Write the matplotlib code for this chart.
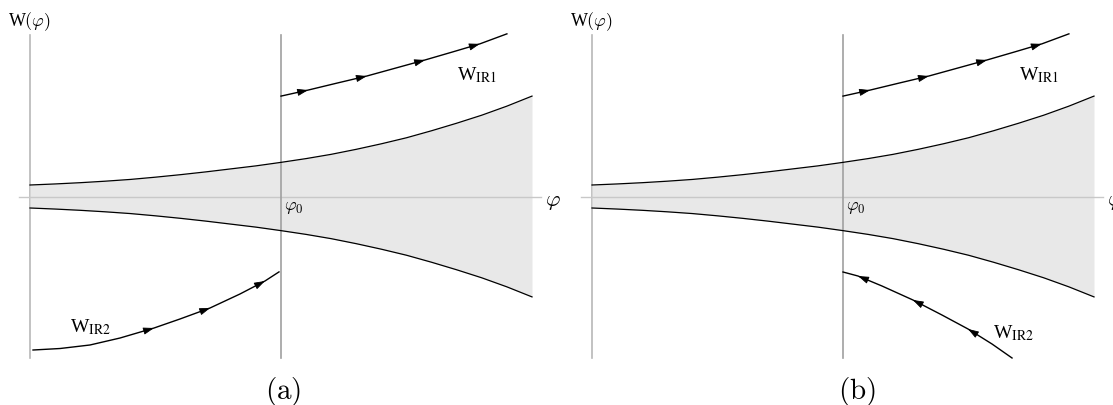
import numpy as np
import matplotlib
matplotlib.use("Agg")
import matplotlib.pyplot as plt

# shaded band around the phi axis (same in both panels)
band_phi = [0, 0.5, 1, 1.5, 2, 2.5, 3, 3.5, 4, 4.5, 5, 5.5, 6, 6.5, 7, 7.5, 8, 8.5, 9, 9.5, 10]
band_upper = [0.229, 0.25, 0.275, 0.305, 0.34, 0.385, 0.435, 0.49, 0.55, 0.61, 0.68,
              0.755, 0.84, 0.94, 1.05, 1.17, 1.31, 1.46, 1.62, 1.80, 2.0]
band_lower = [-0.229, -0.25, -0.275, -0.305, -0.34, -0.385, -0.435, -0.49, -0.55, -0.61, -0.68,
              -0.755, -0.84, -0.94, -1.05, -1.17, -1.31, -1.46, -1.62, -1.80, -2.0]

phi0 = 5.0

# W_IR1 flow (both panels)
ir1_phi = [5.0, 5.54, 6.12, 6.71, 7.29, 7.87, 8.42, 8.96, 9.50]
ir1_w = [2.00, 2.12, 2.26, 2.40, 2.56, 2.72, 2.88, 3.04, 3.24]
ir1_arrows = [5.54, 6.71, 7.87, 8.96]

# W_IR2 flow, panel (a): from the left up to phi0
ir2a_phi = [0.06, 0.60, 1.195, 1.793, 2.47, 2.988, 3.586, 4.183, 4.681, 4.96]
ir2a_w = [-3.058, -3.028, -2.958, -2.819, -2.62, -2.44, -2.221, -1.942, -1.683, -1.502]
ir2a_arrows = [2.47, 3.59, 4.68]

# W_IR2 flow, panel (b): from the right back to phi0
ir2b_phi = [5.0, 5.299, 5.777, 6.394, 6.972, 7.49, 7.968, 8.367]
ir2b_w = [-1.504, -1.584, -1.783, -2.062, -2.361, -2.639, -2.938, -3.217]
ir2b_arrows = [5.30, 6.39, 7.49]

PX = 50.2  # pixels per data unit


def add_arrows(ax, xs, ys, at, backwards=False):
    for xa in at:
        d = 0.08
        x0, x1 = (xa + d, xa) if backwards else (xa - d, xa)
        y0, y1 = np.interp(x0, xs, ys), np.interp(x1, xs, ys)
        ax.annotate("", xy=(x1, y1), xytext=(x0, y0),
                    arrowprops=dict(arrowstyle="-|>,head_length=0.6,head_width=0.2",
                                    color="black", lw=0.6, shrinkA=0, shrinkB=0,
                                    mutation_scale=11))


def draw_panel(ax, label, label_x, ir2_phi, ir2_w, ir2_arrows, ir2_back, ir2_label_pos):
    ax.axis("off")
    # axes lines
    ax.plot([0, 0], [-3.217, 3.217], color="#b8b8b8", lw=1.2, zorder=1)
    ax.plot([-0.22, 10.18], [0, 0], color="#c8c8c8", lw=1.0, zorder=3)
    ax.plot([phi0, phi0], [-3.217, 3.217], color="#a0a0a0", lw=1.2, zorder=4)

    ax.fill_between(band_phi, band_lower, band_upper, color="#e8e8e8", lw=0, zorder=2)
    ax.plot(band_phi, band_upper, color="black", lw=0.9, zorder=5)
    ax.plot(band_phi, band_lower, color="black", lw=0.9, zorder=5)

    ax.plot(ir1_phi, ir1_w, color="black", lw=1.0, zorder=6)
    add_arrows(ax, ir1_phi, ir1_w, ir1_arrows)
    ax.plot(ir2_phi, ir2_w, color="black", lw=1.0, zorder=6)
    add_arrows(ax, ir2_phi, ir2_w, ir2_arrows, backwards=ir2_back)

    ax.text(0, 3.50, r"W$(\varphi)$", fontsize=13, family="Liberation Serif",
            math_fontfamily="cm", ha="center", va="center")
    ax.text(5.06, -0.19, r"$\varphi_0$", fontsize=13, math_fontfamily="cm",
            ha="left", va="center")
    ax.text(10.42, -0.08, r"$\varphi$", fontsize=16, math_fontfamily="cm",
            ha="center", va="center")
    ax.text(8.9, 2.44, r"W$_{\mathrm{IR1}}$", fontsize=14, family="Liberation Serif",
            math_fontfamily="stix", ha="center", va="center")
    ax.text(ir2_label_pos[0], ir2_label_pos[1], r"W$_{\mathrm{IR2}}$", fontsize=14,
            family="Liberation Serif", math_fontfamily="stix", ha="center", va="center")
    ax.text(label_x, -3.86, r"$\mathrm{(" + label + ")}$", fontsize=21,
            math_fontfamily="cm", ha="center", va="center")


fig = plt.figure(figsize=(11.13, 4.06), dpi=100)
W, H = 1113, 406
ax_a = fig.add_axes([0, 0, 556 / W, 1])
ax_b = fig.add_axes([562 / W, 0, 551 / W, 1])
ax_a.set_xlim(-30 / PX, (556 - 30) / PX)
ax_b.set_xlim(-30 / PX, (551 - 30) / PX)
for ax in (ax_a, ax_b):
    ax.set_ylim((197.5 - 406) / PX, 197.5 / PX)

draw_panel(ax_a, "a", 5.04, ir2a_phi, ir2a_w, ir2a_arrows, False, (1.2, -2.58))
draw_panel(ax_b, "b", 5.28, ir2b_phi, ir2b_w, ir2b_arrows, True, (8.4, -2.7))

fig.savefig("out.png", dpi=100)
